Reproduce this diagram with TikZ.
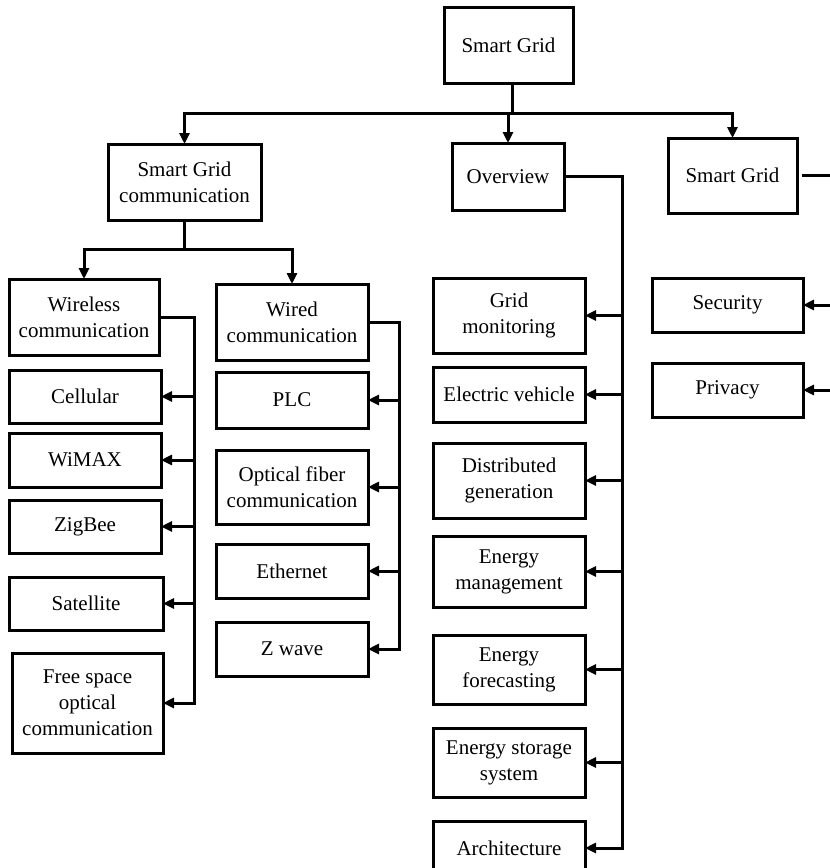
\documentclass[tikz,border=0pt]{standalone}
\usepackage{fontspec}
\setmainfont{Liberation Serif}
\usetikzlibrary{arrows.meta}
% box given by its corners: name, x1, y1, x2, y2, text
\newcommand\boxnode[6]{%
  \node[box, minimum width={#4-#2}, minimum height={#5-#3}] (#1)
    at ({(#2+#4)/2},{(#3+#5)/2}) {#6};}
\begin{document}
\begin{tikzpicture}[x=1pt,y=-1pt,
  box/.style={draw, line width=3pt, inner sep=0pt, outer sep=0pt,
    align=center, font=\fontsize{21}{26}\selectfont},
  link/.style={line width=3pt},
  arr/.style={link, -{Triangle[length=11pt,width=10pt]}}]
\useasboundingbox (0,0) rectangle (830,868);
\clip (0,0) rectangle (830,868);
\fill[white] (0,0) rectangle (830,868);

% top levels
\boxnode{top}{444}{7}{573}{83}{Smart Grid}
\boxnode{sgc}{108}{144}{261}{220}{Smart Grid\\communication}
\boxnode{ov}{452}{143}{564}{210}{Overview}
\boxnode{sgr}{668}{138}{797}{213}{Smart Grid}

% communication branch
\boxnode{wl}{9}{279}{159}{355}{Wireless\\communication}
\boxnode{wd}{216}{284}{368}{360}{Wired\\communication}
\boxnode{cell}{9}{370}{161}{423}{Cellular}
\boxnode{wimax}{9}{433}{161}{487}{WiMAX}
\boxnode{zig}{9}{500}{161}{553}{ZigBee}
\boxnode{sat}{9}{577}{163}{630}{Satellite}
\boxnode{fso}{12}{653}{163}{753}{Free space\\optical\\communication}
\boxnode{plc}{216}{372}{368}{428}{PLC}
\boxnode{ofc}{216}{450}{368}{524}{Optical fiber\\communication}
\boxnode{eth}{216}{544}{368}{598}{Ethernet}
\boxnode{zw}{216}{622}{368}{676}{Z wave}

% overview branch
\boxnode{gm}{433}{278}{585}{353}{Grid\\monitoring}
\boxnode{ev}{433}{367}{585}{422}{Electric vehicle}
\boxnode{dg}{433}{443}{585}{518}{Distributed\\generation}
\boxnode{em}{433}{536}{585}{607}{Energy\\management}
\boxnode{ef}{433}{635}{585}{704}{Energy\\forecasting}
\boxnode{ess}{433}{728}{585}{797}{Energy storage\\system}
\boxnode{arch}{433}{821}{585}{875}{Architecture}

% third branch
\boxnode{sec}{652}{278}{803}{332}{Security}
\boxnode{priv}{652}{363}{803}{417}{Privacy}

% junctions and rails
\coordinate (bus) at (512,113);
\coordinate (bus2) at (184,249);
\coordinate (r1) at (194,0);
\coordinate (r2) at (399,0);
\coordinate (r3) at (622,0);
\coordinate (edge) at (836,0);

% top level links
\draw[link] (top.south -| bus) -- (bus);
\draw[arr] (bus) -| (sgc.north);
\draw[arr] (bus) -| (ov.north);
\draw[arr] (bus) -| (sgr.north);

% communication split
\draw[link] (sgc.south) -- (sgc.south |- bus2);
\draw[arr] (bus2) -| (wl.north);
\draw[arr] (bus2) -| (wd.north);

% wireless rail
\draw[arr] (wl.east) -- (wl.east -| r1) |- (fso.east);
\foreach \n in {cell,wimax,zig,sat}
  \draw[arr] (\n.east -| r1) -- (\n.east);

% wired rail
\draw[arr] (wd.east) -- (wd.east -| r2) |- (zw.east);
\foreach \n in {plc,ofc,eth}
  \draw[arr] (\n.east -| r2) -- (\n.east);

% overview rail
\draw[arr] (ov.east) -- (ov.east -| r3) |- (arch.east);
\foreach \n in {gm,ev,dg,em,ef,ess}
  \draw[arr] (\n.east -| r3) -- (\n.east);

% right branch, running past the edge
\draw[link, shorten <=5pt] (sgr.east) -- (sgr.east -| edge);
\draw[arr] (sec.east -| edge) -- (sec.east);
\draw[arr] (priv.east -| edge) -- (priv.east);
\end{tikzpicture}
\end{document}
